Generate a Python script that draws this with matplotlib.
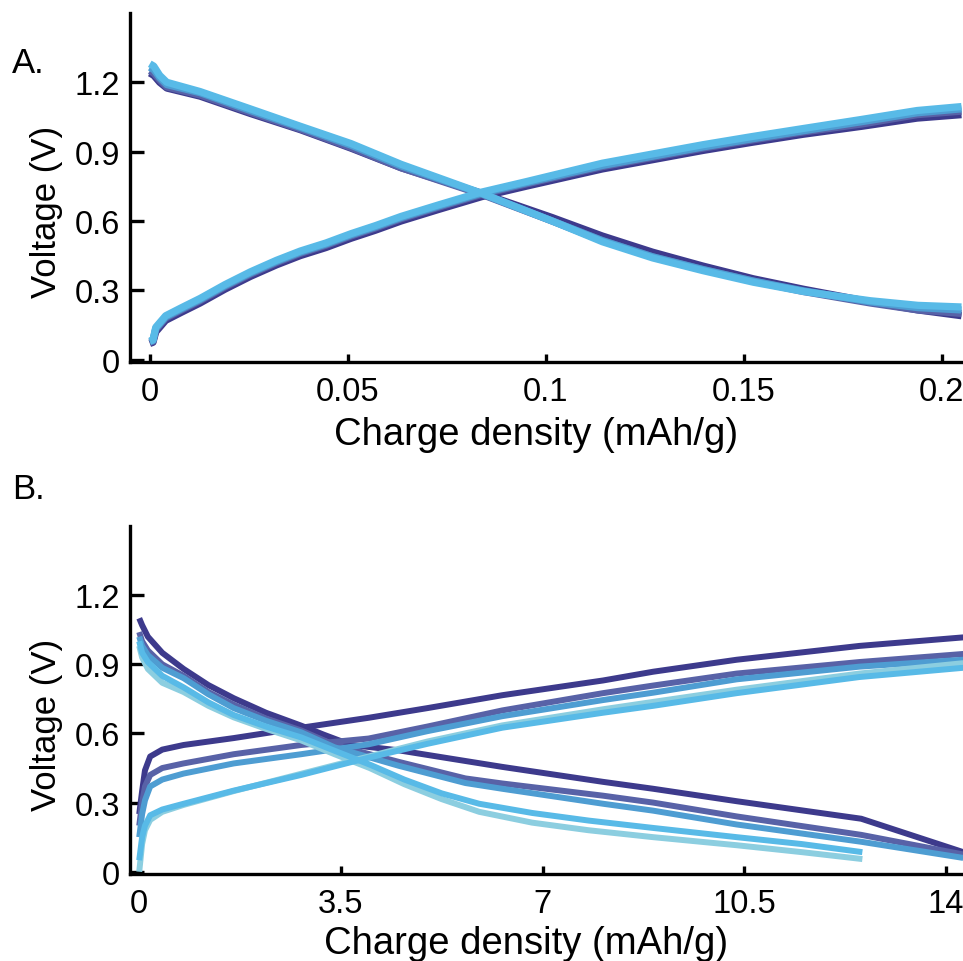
import matplotlib
matplotlib.use('Agg')
import matplotlib.pyplot as plt

plt.rcParams['font.family'] = ['Liberation Sans', 'DejaVu Sans']

navy = '#3d3a8c'
slate = '#5862a7'
mid_blue = '#4e9dd2'
sky = '#58bae7'
pale = '#8ccee0'

########## Panel A data (mAh/g, V) ##########
a_chg_x = [0, 0.0008, 0.0015, 0.004, 0.008, 0.0127, 0.019, 0.0254, 0.032, 0.038, 0.0445,
           0.0508, 0.057, 0.0635, 0.073, 0.0838, 0.095, 0.1143, 0.127, 0.1397, 0.152,
           0.165, 0.18, 0.1938, 0.205]
a_chg_navy = [0.07, 0.075, 0.12, 0.17, 0.205, 0.245, 0.305, 0.36, 0.41, 0.45, 0.485,
              0.525, 0.56, 0.60, 0.65, 0.705, 0.75, 0.825, 0.865, 0.905, 0.94,
              0.975, 1.01, 1.045, 1.06]
a_chg_slate = [0.075, 0.08, 0.13, 0.18, 0.215, 0.255, 0.315, 0.37, 0.42, 0.46, 0.495,
               0.535, 0.57, 0.61, 0.66, 0.715, 0.76, 0.835, 0.875, 0.915, 0.95,
               0.985, 1.02, 1.06, 1.075]
a_chg_mid = [0.078, 0.083, 0.135, 0.185, 0.22, 0.26, 0.32, 0.375, 0.425, 0.465, 0.50,
             0.54, 0.575, 0.615, 0.665, 0.72, 0.765, 0.84, 0.88, 0.92, 0.955,
             0.99, 1.03, 1.068, 1.085]
a_chg_sky = [0.08, 0.085, 0.14, 0.19, 0.225, 0.265, 0.325, 0.38, 0.43, 0.47, 0.505,
             0.545, 0.58, 0.62, 0.67, 0.725, 0.77, 0.85, 0.89, 0.93, 0.965,
             1.0, 1.04, 1.078, 1.095]

a_dis_x = [0, 0.001, 0.0025, 0.0043, 0.0127, 0.0254, 0.038, 0.0508, 0.0635, 0.0838,
           0.1016, 0.1143, 0.127, 0.1397, 0.1524, 0.165, 0.182, 0.194, 0.205]
a_dis_navy = [1.24, 1.23, 1.2, 1.175, 1.14, 1.065, 0.995, 0.915, 0.83, 0.72,
              0.615, 0.535, 0.465, 0.405, 0.35, 0.305, 0.25, 0.215, 0.19]
a_dis_slate = [1.25, 1.24, 1.21, 1.18, 1.145, 1.07, 0.998, 0.918, 0.83, 0.715,
               0.6, 0.515, 0.445, 0.39, 0.34, 0.295, 0.245, 0.215, 0.2]
a_dis_mid = [1.265, 1.255, 1.22, 1.19, 1.155, 1.078, 1.005, 0.928, 0.838, 0.718,
             0.6, 0.515, 0.445, 0.39, 0.34, 0.298, 0.25, 0.225, 0.215]
a_dis_sky = [1.28, 1.27, 1.23, 1.2, 1.16, 1.085, 1.01, 0.935, 0.845, 0.72,
             0.6, 0.51, 0.44, 0.385, 0.335, 0.295, 0.255, 0.235, 0.228]

a_xticks = [0, 0.05, 0.1, 0.15, 0.2]
a_xticklabels = ['0', '0.05', '0.1', '0.15', '0.2']

########## Panel B data (mAh/g, V) ##########
b_chg_x = [0, 0.05, 0.1, 0.19, 0.4, 0.77, 1.64, 2.81, 3.98, 5.0, 6.3, 8.05, 8.92, 10.37, 12.5, 14.3]
b_chg_navy = [0.25, 0.35, 0.44, 0.50, 0.53, 0.55, 0.58, 0.625, 0.668, 0.71, 0.766, 0.83, 0.868, 0.92, 0.98, 1.017]
b_chg_slate = [0.2, 0.3, 0.37, 0.42, 0.45, 0.47, 0.51, 0.55, 0.578, 0.63, 0.70, 0.775, 0.808, 0.86, 0.91, 0.945]
b_chg_mid = [0.15, 0.25, 0.31, 0.37, 0.40, 0.426, 0.47, 0.51, 0.553, 0.61, 0.675, 0.745, 0.777, 0.835, 0.89, 0.92]
b_chg_sky = [0.05, 0.15, 0.2, 0.245, 0.27, 0.295, 0.352, 0.42, 0.495, 0.555, 0.625, 0.69, 0.72, 0.775, 0.845, 0.885]
b_chg_pale = [0.0, 0.12, 0.18, 0.225, 0.26, 0.29, 0.35, 0.425, 0.50, 0.565, 0.635, 0.705, 0.737, 0.79, 0.86, 0.905]

b_dis_x_navy = [0, 0.05, 0.15, 0.4, 0.77, 1.2, 1.64, 2.2, 2.81, 3.2, 3.68, 4.5, 6.3, 8.05, 8.92, 10.37, 12.53, 14.3]
b_dis_navy = [1.10, 1.07, 1.02, 0.95, 0.88, 0.81, 0.753, 0.69, 0.634, 0.595, 0.55, 0.527, 0.455, 0.39, 0.36, 0.306, 0.23, 0.085]
b_dis_x = [0, 0.05, 0.15, 0.4, 0.77, 1.2, 1.64, 2.2, 2.81, 3.39, 4.5, 5.66, 6.3, 8.05, 8.92, 10.37, 12.53, 14.3]
b_dis_slate = [1.04, 1.0, 0.96, 0.90, 0.85, 0.78, 0.725, 0.665, 0.613, 0.55, 0.477, 0.405, 0.383, 0.33, 0.30, 0.24, 0.16, 0.075]
b_dis_mid = [1.02, 0.98, 0.94, 0.885, 0.84, 0.77, 0.71, 0.655, 0.605, 0.54, 0.46, 0.385, 0.36, 0.295, 0.265, 0.205, 0.13, 0.06]
b_dis_x_short = [0, 0.05, 0.15, 0.4, 0.77, 1.2, 1.64, 2.2, 2.81, 3.39, 4.0, 4.6, 5.25, 5.9, 6.82, 7.8, 8.92, 10.37, 11.5, 12.55]
b_dis_sky = [1.0, 0.95, 0.91, 0.85, 0.80, 0.735, 0.68, 0.63, 0.583, 0.525, 0.465, 0.40, 0.34, 0.295, 0.255, 0.222, 0.19, 0.15, 0.12, 0.085]
b_dis_pale = [0.98, 0.93, 0.88, 0.82, 0.78, 0.72, 0.67, 0.62, 0.57, 0.51, 0.45, 0.38, 0.315, 0.26, 0.213, 0.18, 0.15, 0.115, 0.085, 0.055]

b_xticks = [0, 3.5, 7, 10.5, 14]
b_xticklabels = ['0', '3.5', '7', '10.5', '14']

yticks = [0, 0.3, 0.6, 0.9, 1.2]
yticklabels = ['0', '0.3', '0.6', '0.9', '1.2']


def style_axis(ax):
    for side in ['top', 'right']:
        ax.spines[side].set_visible(False)
    for side in ['left', 'bottom']:
        ax.spines[side].set_linewidth(2.4)
    ax.tick_params(axis='y', direction='in', length=10, width=2.4, labelsize=23.5, pad=7)
    ax.tick_params(axis='x', direction='in', length=6, width=2.4, labelsize=23.5, pad=10)
    ax.set_yticks(yticks)
    ax.set_yticklabels(yticklabels)
    ax.set_ylim(-0.01, 1.5)


fig = plt.figure(figsize=(9.63, 9.62), dpi=100)

# Panel A
ax1 = fig.add_axes([0.135, 0.6227, 0.87, 0.3628])
lw_a = 5.2
for c, d, col in [(a_chg_navy, a_dis_navy, navy), (a_chg_slate, a_dis_slate, slate),
                  (a_chg_mid, a_dis_mid, mid_blue), (a_chg_sky, a_dis_sky, sky)]:
    ax1.plot(a_chg_x, c, color=col, linewidth=lw_a, solid_capstyle='butt')
    ax1.plot(a_dis_x, d, color=col, linewidth=lw_a, solid_capstyle='butt')
style_axis(ax1)
ax1.set_xlim(-0.005, 0.2066)
ax1.set_xticks(a_xticks)
ax1.set_xticklabels(a_xticklabels)
ax1.set_ylabel('Voltage (V)', fontsize=25, va='center')
ax1.yaxis.set_label_coords(-0.1, 0.433)
ax1.set_xlabel('Charge density (mAh/g)', fontsize=27.5, va='baseline')
ax1.xaxis.set_label_coords(0.485, -0.235)

# Panel B
ax2 = fig.add_axes([0.135, 0.0904, 0.87, 0.3617])
lw_b = 4.3
for x, y, col in [(b_chg_x, b_chg_navy, navy), (b_dis_x_navy, b_dis_navy, navy),
                  (b_chg_x, b_chg_slate, slate), (b_dis_x, b_dis_slate, slate),
                  (b_chg_x, b_chg_mid, mid_blue), (b_dis_x, b_dis_mid, mid_blue),
                  (b_chg_x, b_chg_pale, pale), (b_dis_x_short, b_dis_pale, pale),
                  (b_chg_x, b_chg_sky, sky), (b_dis_x_short, b_dis_sky, sky)]:
    ax2.plot(x, y, color=col, linewidth=lw_b, solid_capstyle='butt')
style_axis(ax2)
ax2.set_xlim(-0.16, 14.38)
ax2.set_xticks(b_xticks)
ax2.set_xticklabels(b_xticklabels)
ax2.set_ylabel('Voltage (V)', fontsize=25, va='center')
ax2.yaxis.set_label_coords(-0.1, 0.431)
ax2.set_xlabel('Charge density (mAh/g)', fontsize=27.5, va='baseline')
ax2.xaxis.set_label_coords(0.473, -0.227)

fig.text(0.0125, 0.924, 'A.', fontsize=25, va='baseline', ha='left')
fig.text(0.0125, 0.491, 'B.', fontsize=25, va='center', ha='left')

plt.savefig('out.png', dpi=100)
plt.close()
